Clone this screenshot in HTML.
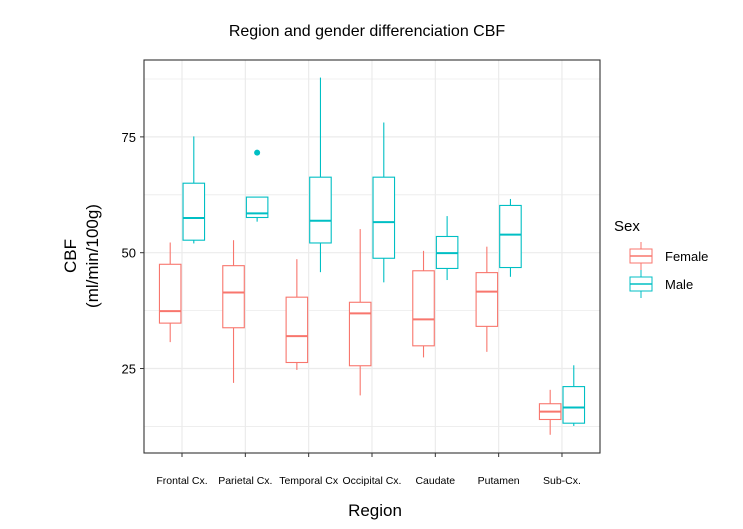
<!DOCTYPE html>
<html><head><meta charset="utf-8"><style>
body{margin:0;background:#fff;}
svg{display:block;font-family:"Liberation Sans",Arial,sans-serif;}
</style></head><body>
<svg id="chart" width="743" height="529">
<text x="367" y="36" text-anchor="middle" font-size="16" fill="#000">Region and gender differenciation CBF</text>
<g id="grid"></g><g id="boxes"></g><g id="axes"></g>
<rect x="144" y="60" width="456" height="393" fill="none" stroke="#333" stroke-width="1.1"/>
<text x="375" y="516" text-anchor="middle" font-size="17">Region</text>
<g transform="translate(76,256) rotate(-90)">
<text x="0" y="0" text-anchor="middle" font-size="17">CBF</text>
<text x="0" y="22" text-anchor="middle" font-size="17">(ml/min/100g)</text>
</g>
<g>
<text x="614" y="231" font-size="15">Sex</text>
<g>
<line x1="641" y1="242" x2="641" y2="270" stroke="#F8766D" stroke-width="1"/>
<rect x="630" y="249" width="22" height="14" fill="#fff" stroke="#F8766D" stroke-width="1"/>
<line x1="630" y1="256" x2="652" y2="256" stroke="#F8766D" stroke-width="1.5"/>
<text x="665" y="261" font-size="13">Female</text></g>
<g>
<line x1="641" y1="270" x2="641" y2="298" stroke="#00BFC4" stroke-width="1"/>
<rect x="630" y="277" width="22" height="14" fill="#fff" stroke="#00BFC4" stroke-width="1"/>
<line x1="630" y1="284" x2="652" y2="284" stroke="#00BFC4" stroke-width="1.5"/>
<text x="665" y="289" font-size="13">Male</text></g>
</g>
</svg>
<script>
const categories=["Frontal Cx.","Parietal Cx.","Temporal Cx","Occipital Cx.","Caudate","Putamen","Sub-Cx."];
const femaleStats=[[30.7,34.8,37.4,47.5,52.2],[21.9,33.8,41.4,47.2,52.7],[24.7,26.3,32.0,40.4,48.6],[19.2,25.6,36.9,39.3,55.1],[27.4,29.9,35.6,46.1,50.4],[28.6,34.1,41.6,45.7,51.3],[10.7,14.0,15.7,17.4,20.4]];
const maleStats=[[52.0,52.7,57.5,65.0,75.1],[56.7,57.6,58.5,62.0,62.0],[45.8,52.1,56.9,66.3,87.8],[43.6,48.8,56.6,66.3,78.1],[44.1,46.6,49.9,53.5,57.9],[44.8,46.8,53.9,60.2,61.6],[12.6,13.2,16.6,21.1,25.7]];
const maleOutliers=[[1,71.6]];
const yTicks=[25,50,75];
const yMinor=[12.5,37.5,62.5,87.5];
const NS="http://www.w3.org/2000/svg";
const yS=v=>252.7-(v-50)*4.633;
const xS=i=>182+i*63.33;
function mk(tag,attrs,parent){const e=document.createElementNS(NS,tag);for(const k in attrs)e.setAttribute(k,attrs[k]);parent.appendChild(e);return e;}
const grid=document.getElementById('grid'),boxes=document.getElementById('boxes'),axes=document.getElementById('axes');
yMinor.forEach(v=>{const l=mk('line',{x1:144,x2:600,y1:yS(v),y2:yS(v),stroke:'#ebebeb','stroke-width':0.8},grid);

});
yTicks.forEach(v=>{const l=mk('line',{x1:144,x2:600,y1:yS(v),y2:yS(v),stroke:'#ebebeb','stroke-width':1.2},grid);


mk('line',{x1:140,x2:144,y1:yS(v),y2:yS(v),stroke:'#333'},axes);
const t=mk('text',{x:136,y:yS(v)+5,'text-anchor':'end','font-size':13},axes);t.textContent=v;

});
categories.forEach((c,i)=>{const x=xS(i);
const l=mk('line',{x1:x,x2:x,y1:60,y2:453,stroke:'#ebebeb','stroke-width':1.2},grid);


mk('line',{x1:x,x2:x,y1:453,y2:457,stroke:'#333'},axes);
const t=mk('text',{x:x,y:484,'text-anchor':'middle','font-size':10.5},axes);t.textContent=c;

});
function drawBox(s,cx,col,name){const g=mk('g',{},boxes);


const w=21.5;
mk('line',{x1:cx,x2:cx,y1:yS(s[0]),y2:yS(s[1]),stroke:col,'stroke-width':1.1},g);
mk('line',{x1:cx,x2:cx,y1:yS(s[3]),y2:yS(s[4]),stroke:col,'stroke-width':1.1},g);
mk('rect',{x:cx-w/2,y:yS(s[3]),width:w,height:yS(s[1])-yS(s[3]),fill:'#fff',stroke:col,'stroke-width':1.1},g);
mk('line',{x1:cx-w/2,x2:cx+w/2,y1:yS(s[2]),y2:yS(s[2]),stroke:col,'stroke-width':2},g);}
categories.forEach((c,i)=>{drawBox(femaleStats[i],xS(i)-11.8,'#F8766D','box-female-'+i);drawBox(maleStats[i],xS(i)+11.8,'#00BFC4','box-male-'+i);});
maleOutliers.forEach(o=>{const p=mk('circle',{cx:xS(o[0])+11.8,cy:yS(o[1]),r:3,fill:'#00BFC4'},boxes);

});
</script>
</body></html>
